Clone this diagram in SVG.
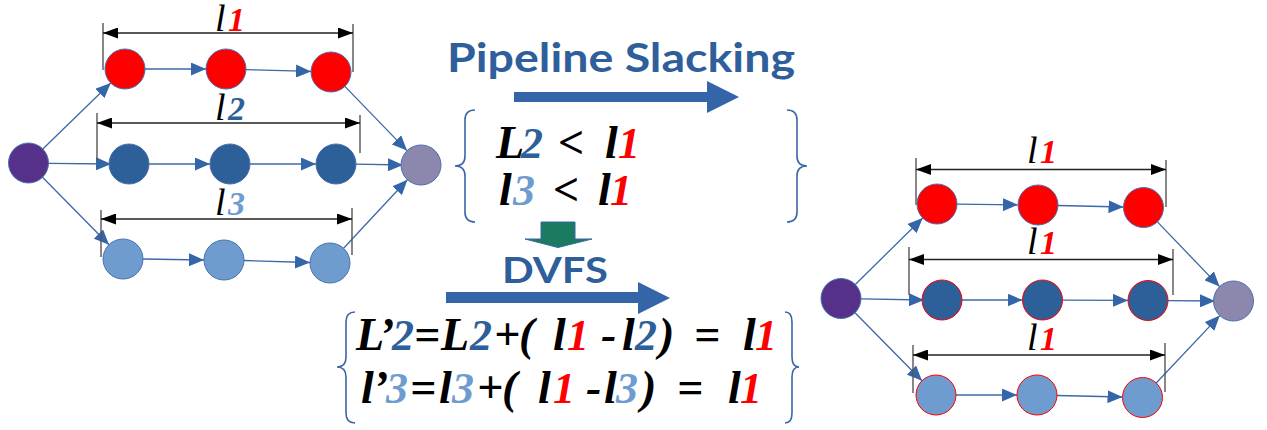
<svg xmlns="http://www.w3.org/2000/svg" width="1267" height="430" viewBox="0 0 1267 430">
<style>
.e{stroke:#3a68a8;stroke-width:1.3;fill:none;marker-end:url(#ah)}
.d{stroke:#222;stroke-width:1.4;fill:none;marker-start:url(#dh);marker-end:url(#dh)}
.t{stroke:#555;stroke-width:1.4}
.n{stroke:#4a72b0;stroke-width:1}
.rs{stroke:#ff0000;stroke-width:1}
.red{fill:#ff0000}.dk{fill:#2d5f99}.lt{fill:#6f9ccf}.src{fill:#55318a}.snk{fill:#8c87ad}
.lab{font-family:"Liberation Serif",serif;font-style:italic;font-size:38px;fill:#000}
.dg{font-family:"Liberation Serif",serif;font-style:italic;font-weight:bold;font-size:34px}
.eq{font-family:"Liberation Serif",serif;font-style:italic;font-weight:bold;font-size:46px;fill:#000}
.eqd{font-size:44px}
.cr{fill:#ff0000}.cb{fill:#2d5f99}.cl{fill:#6f9ccf}
.ttl{font-family:Lato,"Open Sans",sans-serif;font-weight:bold;fill:#2f5f9a}
.br{stroke:#3a66a8;stroke-width:1.6;fill:none}
.big{fill:#3465a8}
</style>
<defs>
<marker id="ah" markerUnits="userSpaceOnUse" markerWidth="15" markerHeight="13" refX="15" refY="6.5" orient="auto"><path d="M0,0L15,6.5L0,13z" fill="#3465a8"/></marker>
<marker id="dh" markerUnits="userSpaceOnUse" markerWidth="15" markerHeight="11" refX="15" refY="5.5" orient="auto-start-reverse"><path d="M0,0L15,5.5L0,11z" fill="#000"/></marker>
</defs>

<g id="connectors">
<line class="e" x1="42.8" y1="149" x2="110.7" y2="83"/>
<line class="e" x1="48.5" y1="163.3" x2="111" y2="164"/>
<line class="e" x1="42.5" y1="177.3" x2="109" y2="244.7"/>
<line class="e" x1="145" y1="69" x2="206" y2="69"/>
<line class="e" x1="246" y1="69.6" x2="311" y2="71.4"/>
<line class="e" x1="344.9" y1="86.4" x2="407" y2="150.6"/>
<line class="e" x1="149" y1="164" x2="210" y2="164"/>
<line class="e" x1="250" y1="164" x2="316" y2="164"/>
<line class="e" x1="356" y1="164.2" x2="403" y2="165"/>
<line class="e" x1="143" y1="259" x2="204" y2="260"/>
<line class="e" x1="244" y1="260.5" x2="310" y2="262.5"/>
<line class="e" x1="343.6" y1="248.3" x2="407.4" y2="179.7"/>
<line class="e" x1="855.3" y1="284.5" x2="922.7" y2="218"/>
<line class="e" x1="861" y1="298.8" x2="924" y2="300"/>
<line class="e" x1="855" y1="312.8" x2="922" y2="380.7"/>
<line class="e" x1="957" y1="204.2" x2="1018" y2="204.8"/>
<line class="e" x1="1058" y1="205.5" x2="1123.5" y2="207"/>
<line class="e" x1="1157.4" y1="221.9" x2="1219.6" y2="286.6"/>
<line class="e" x1="962" y1="300" x2="1022.5" y2="300"/>
<line class="e" x1="1062.5" y1="300.2" x2="1128" y2="300.4"/>
<line class="e" x1="1168" y1="300.6" x2="1215" y2="301"/>
<line class="e" x1="956" y1="395" x2="1017" y2="395"/>
<line class="e" x1="1057" y1="395.5" x2="1122.5" y2="397"/>
<line class="e" x1="1156.2" y1="383" x2="1219.8" y2="315.6"/>
</g>

<g id="dimensions">
<line class="t" x1="103" y1="23" x2="103" y2="70"/><line class="t" x1="353" y1="24" x2="353" y2="72"/>
<line class="d" x1="103" y1="33" x2="353" y2="33"/>
<line class="t" x1="97" y1="113" x2="97" y2="160"/><line class="t" x1="360" y1="115" x2="360" y2="153"/>
<line class="d" x1="97" y1="123" x2="360" y2="123"/>
<line class="t" x1="101" y1="210" x2="101" y2="257"/><line class="t" x1="352" y1="208" x2="352" y2="255"/>
<line class="d" x1="101" y1="219" x2="352" y2="219"/>
<line class="t" x1="916" y1="158" x2="916" y2="205"/><line class="t" x1="1166" y1="160" x2="1166" y2="207"/>
<line class="d" x1="916" y1="169.5" x2="1166" y2="169.5"/>
<line class="t" x1="909" y1="247" x2="909" y2="295"/><line class="t" x1="1173" y1="249" x2="1173" y2="295"/>
<line class="d" x1="909" y1="259.5" x2="1173" y2="259.5"/>
<line class="t" x1="913" y1="345" x2="913" y2="393"/><line class="t" x1="1165" y1="343" x2="1165" y2="392"/>
<line class="d" x1="913" y1="355" x2="1165" y2="355"/>
<text class="lab" x="215" y="31">l<tspan class="dg cr" x="228">1</tspan></text>
<text class="lab" x="215" y="120">l<tspan class="dg cb" x="228">2</tspan></text>
<text class="lab" x="215" y="215">l<tspan class="dg cl" x="228">3</tspan></text>
<text class="lab" x="1027" y="163">l<tspan class="dg cr" x="1040">1</tspan></text>
<text class="lab" x="1027" y="254">l<tspan class="dg cr" x="1040">1</tspan></text>
<text class="lab" x="1027" y="350">l<tspan class="dg cr" x="1040">1</tspan></text>
</g>

<g id="left-graph">
<circle id="ls" class="n src" cx="28.5" cy="163" r="20"/>
<circle id="lr1" class="n red" cx="125" cy="69" r="20"/>
<circle id="lr2" class="n red" cx="226" cy="69" r="20"/>
<circle id="lr3" class="n red" cx="331" cy="72" r="20"/>
<circle id="ld1" class="n dk" cx="129" cy="164" r="20"/>
<circle id="ld2" class="n dk" cx="230" cy="164" r="20"/>
<circle id="ld3" class="n dk" cx="336" cy="164" r="20"/>
<circle id="ll1" class="n lt" cx="123" cy="259" r="20"/>
<circle id="ll2" class="n lt" cx="224" cy="260" r="20"/>
<circle id="ll3" class="n lt" cx="330" cy="263" r="20"/>
<circle id="lk" class="n snk" cx="421" cy="165" r="20"/>
</g>

<g id="right-graph">
<circle id="rs" class="n src" cx="841" cy="298.5" r="20"/>
<circle id="rr1" class="n red" cx="937" cy="204" r="20"/>
<circle id="rr2" class="n red" cx="1038" cy="205" r="20"/>
<circle id="rr3" class="n red" cx="1143.5" cy="207.5" r="20"/>
<circle id="rd1" class="rs dk" cx="942" cy="300" r="20"/>
<circle id="rd2" class="rs dk" cx="1042.5" cy="300" r="20"/>
<circle id="rd3" class="rs dk" cx="1148" cy="300.5" r="20"/>
<circle id="rl1" class="rs lt" cx="936" cy="395" r="20"/>
<circle id="rl2" class="rs lt" cx="1037" cy="395" r="20"/>
<circle id="rl3" class="rs lt" cx="1142.5" cy="397.5" r="20"/>
<circle id="rk" class="n snk" cx="1233.5" cy="301" r="20"/>
</g>

<g id="middle">
<text class="ttl" x="447" y="72" font-size="40" textLength="348" lengthAdjust="spacingAndGlyphs">Pipeline Slacking</text>
<polygon class="big" points="514,92 707,92 707,81 739,97 707,113 707,102 514,102"/>
<path class="br" d="M475,110Q465,110 465,120L465,156Q465,166 455,166Q465,166 465,176L465,212Q465,222 475,222"/>
<path class="br" d="M787,110Q797,110 797,120L797,156Q797,166 807,166Q797,166 797,176L797,212Q797,222 787,222"/>
<text class="eq" y="158"><tspan x="496">L</tspan><tspan class="eqd cb" x="521">2</tspan><tspan x="558">&lt;</tspan><tspan x="605">l</tspan><tspan class="eqd cr" x="618">1</tspan></text>
<text class="eq" y="205"><tspan x="499">l</tspan><tspan class="eqd cl" x="513">3</tspan><tspan x="553">&lt;</tspan><tspan x="598">l</tspan><tspan class="eqd cr" x="610">1</tspan></text>
<polygon points="541,222 575,222 575,239 592,239 558,247.5 525,239 541,239" fill="#1b7b60" stroke="#3a66a8" stroke-width="1"/>
<text class="ttl" x="502" y="283" font-size="37" textLength="106" lengthAdjust="spacingAndGlyphs">DVFS</text>
<polygon class="big" points="446,292 638,292 638,282 670,298 638,314 638,303 446,303"/>
<path class="br" d="M355,312Q346,312 346,322L346,357Q346,367 337,367Q346,367 346,377L346,413Q346,423 355,423"/>
<path class="br" d="M785,312Q792,312 792,322L792,357Q792,367 799,367Q792,367 792,377L792,413Q792,423 785,423"/>
<text class="eq" y="350"><tspan x="356">L</tspan><tspan x="379">’</tspan><tspan class="eqd cb" x="392">2</tspan><tspan x="414">=</tspan><tspan x="441">L</tspan><tspan class="eqd cb" x="470">2</tspan><tspan x="494">+</tspan><tspan x="519">(</tspan><tspan x="553">l</tspan><tspan class="eqd cr" x="567">1</tspan><tspan x="601">-</tspan><tspan x="622">l</tspan><tspan class="eqd cb" x="635">2</tspan><tspan x="659">)</tspan><tspan x="694">=</tspan><tspan x="743">l</tspan><tspan class="eqd cr" x="755">1</tspan></text>
<text class="eq" y="403"><tspan x="361">l</tspan><tspan x="373">’</tspan><tspan class="eqd cl" x="386">3</tspan><tspan x="410">=</tspan><tspan x="439">l</tspan><tspan class="eqd cl" x="452">3</tspan><tspan x="477">+</tspan><tspan x="502">(</tspan><tspan x="538">l</tspan><tspan class="eqd cr" x="553">1</tspan><tspan x="586">-</tspan><tspan x="604">l</tspan><tspan class="eqd cl" x="616">3</tspan><tspan x="641">)</tspan><tspan x="677">=</tspan><tspan x="728">l</tspan><tspan class="eqd cr" x="740">1</tspan></text>
</g>
</svg>
